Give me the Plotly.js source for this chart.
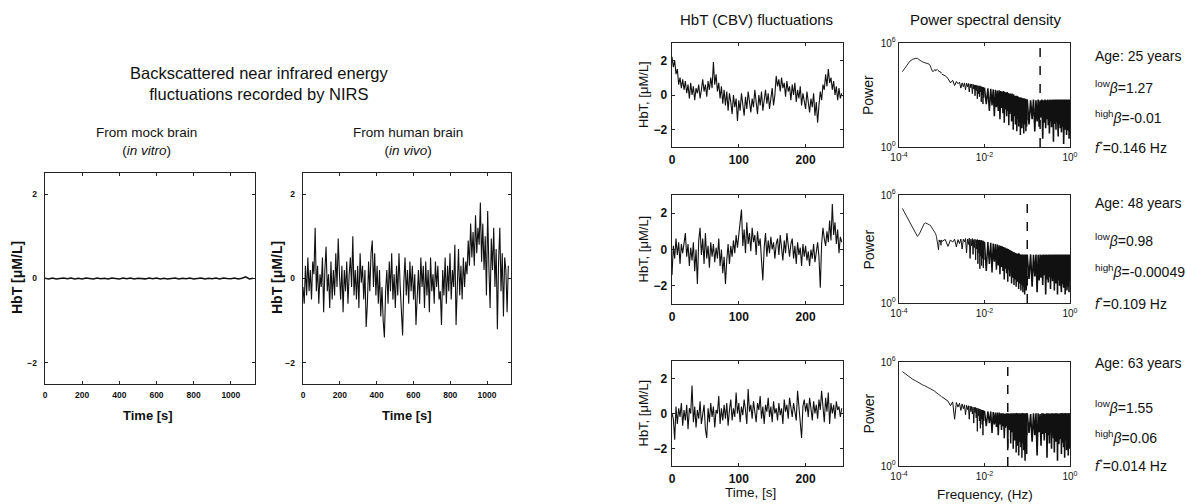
<!DOCTYPE html>
<html>
<head>
<meta charset="utf-8">
<script src="https://cdn.plot.ly/plotly-3.0.1.min.js"></script>
<style>
html,body{margin:0;padding:0;background:#ffffff;}
#chart{width:1186px;height:504px;}
</style>
</head>
<body>
<div id="chart"></div>
<script>
// ---------------- DATA ----------------
// In vitro (mock brain) HbT trace, sampled every 20 s
const mockStep = 20;
const mockHbT = [0.005,-0.01,0.01,-0.01,0.0,0.01,-0.005,0.01,-0.01,0.005,
  -0.01,0.01,0.0,-0.01,0.01,-0.005,0.005,-0.01,0.01,0.0,
  -0.01,0.01,-0.005,0.01,-0.01,0.005,0.0,-0.01,0.01,-0.005,
  0.01,-0.01,0.005,-0.01,0.0,0.01,-0.01,0.005,-0.005,0.01,
  -0.01,0.0,0.01,-0.01,0.005,-0.005,0.01,-0.01,0.01,0.0,
  -0.005,0.01,-0.01,0.005,0.04,-0.01,0.005];

// In vivo (human brain) HbT trace, sampled every 6.6 s
const humanStep = 6.6;
const humanHbT = [-0.2,-0.6,0.3,-0.4,0.5,-0.3,0.2,-0.5,0.4,0.1,
  1.2,-0.3,0.3,-0.6,0.1,-0.2,0.5,-0.8,0.2,0.75,
  -0.3,0.1,-0.7,0.4,-0.5,0.2,-0.4,0.6,-0.2,0.95,
  0.1,-0.5,0.3,-0.8,0.2,-0.3,0.4,-0.6,0.1,0.5,
  -0.2,1.0,-0.4,0.2,-0.5,0.3,-0.7,0.6,-0.1,0.3,
  -0.5,0.2,-1.15,-0.6,0.4,-0.3,0.6,0.9,-0.2,0.6,
  -0.4,0.3,-0.6,0.2,-0.9,-0.2,-1.0,-1.4,-0.3,0.2,
  -0.6,0.4,-0.3,0.6,-0.5,0.1,-0.7,0.3,-0.4,0.6,
  -0.2,-0.8,-1.35,-0.1,0.5,-0.4,0.2,-0.6,0.4,-0.3,
  0.3,-0.5,0.1,-1.1,-0.3,0.2,-0.6,0.5,-0.2,0.3,
  -0.7,0.4,-0.4,0.2,-0.8,0.5,-0.3,0.1,-0.6,0.4,
  -0.2,0.3,-0.5,-0.3,-1.1,0.2,-0.4,0.5,-0.6,0.3,
  -0.3,0.6,-0.5,0.2,-0.2,0.8,-1.1,0.1,0.7,-0.4,
  0.3,-0.5,0.5,-0.2,0.4,0.1,0.9,0.3,1.3,0.5,
  1.1,0.3,1.5,0.6,1.2,0.8,1.8,0.4,1.3,0.2,
  1.0,-0.4,1.6,0.3,-0.7,0.95,0.2,1.2,-0.2,0.7,
  -1.2,0.4,1.2,-0.3,0.6,-0.9,0.5,0.2,-0.8,0.3];

// HbT (CBV) fluctuations per subject, sampled every 2 s
const cbvStep = 2;
const hbtAge25 = [2.2,1.6,2.0,1.2,1.5,0.6,1.0,0.4,0.9,0.3,
  0.8,0.1,0.6,-0.2,0.7,0.0,0.5,-0.3,0.4,0.1,
  0.6,-0.2,0.3,0.9,0.2,0.6,-0.1,0.8,0.3,1.0,
  0.4,1.9,0.6,1.2,0.2,0.7,-0.2,0.5,-0.5,0.3,
  -0.6,0.2,-0.9,0.1,-0.4,-1.1,0.0,-0.7,-0.2,-1.5,
  -0.3,-0.9,0.1,-0.6,-1.2,-0.1,-0.8,0.2,-0.5,-1.0,
  -0.2,-0.7,0.3,-0.4,-1.1,0.0,-0.6,0.2,-0.9,-0.3,
  0.3,-0.5,0.1,-0.8,-0.2,0.4,-0.6,0.0,1.1,0.5,
  0.9,0.2,1.0,0.4,0.7,-0.1,0.8,0.2,0.5,-0.3,
  0.6,0.0,0.7,-0.4,0.3,-0.2,0.5,-0.6,0.1,-0.3,
  -0.8,0.2,-0.5,-1.0,-0.2,-0.7,0.1,-1.2,-0.4,-1.6,
  -0.6,0.2,-0.3,0.6,0.3,1.2,0.5,1.5,0.7,1.0,
  0.3,0.8,0.0,0.5,-0.3,0.4,-0.2,0.1];
const hbtAge48 = [-1.4,0.2,-0.5,0.6,-0.3,0.4,-0.8,0.3,-0.2,0.5,
  0.9,-0.4,0.3,-0.9,0.1,-0.6,0.4,-1.2,0.0,-1.9,
  0.5,1.2,-0.3,0.6,-0.8,0.9,-0.5,0.2,-1.0,0.4,
  -0.4,0.3,-0.7,0.1,-0.5,0.6,-0.9,0.0,-1.3,-0.4,
  -1.9,-0.6,0.3,-0.8,0.2,-0.4,0.5,-0.2,0.8,0.1,
  0.7,1.3,2.2,0.2,1.1,-0.2,1.5,0.3,0.9,-0.1,
  1.2,0.4,0.8,-0.3,1.0,0.2,0.6,-0.6,-1.7,0.1,
  0.9,-0.4,0.5,-0.2,0.7,0.0,0.4,-0.5,0.3,0.6,
  -0.3,0.8,0.1,-0.6,0.5,-0.2,0.9,0.0,-0.4,0.3,
  0.6,-0.5,0.2,-0.8,0.4,-0.3,0.1,-0.9,0.3,-0.4,
  0.2,-0.6,-0.1,-0.9,0.0,-0.5,0.3,-0.7,-0.2,0.4,
  -0.4,-2.1,0.3,1.2,0.6,0.2,1.0,0.4,1.6,0.5,
  2.5,0.8,1.5,0.3,1.1,-0.2,0.7,0.4];
const hbtAge63 = [0.0,-0.3,-1.5,0.4,-0.6,0.3,-0.2,0.6,-0.7,0.2,
  -0.4,0.5,-0.9,0.3,0.0,1.6,-0.5,0.4,-0.8,0.2,
  -0.3,0.7,-0.6,0.1,0.5,-0.9,-1.4,0.3,-0.5,0.6,
  -0.2,0.4,-0.8,0.2,0.0,1.0,-0.6,0.3,-0.4,0.5,
  -0.3,0.6,-0.7,0.2,0.8,-0.4,0.3,-0.2,1.2,0.0,
  0.6,-0.5,0.4,-0.1,0.8,0.2,-0.6,1.4,0.1,0.5,
  -0.3,0.7,0.0,-0.5,0.6,0.2,1.0,-0.3,0.4,-0.6,
  0.5,0.1,0.9,-0.2,0.4,-0.5,0.7,0.0,0.3,-0.4,
  0.6,-0.1,0.3,-0.6,0.8,0.1,0.5,-0.3,0.9,0.2,
  -0.2,0.6,0.0,-0.4,1.3,0.2,-0.3,-1.4,0.4,0.8,
  0.1,0.6,-0.2,0.9,0.3,-0.4,0.7,0.0,0.5,-0.3,
  0.8,0.2,1.3,0.4,-0.5,0.9,0.1,1.2,-0.6,0.6,
  0.0,0.5,-0.3,0.7,0.2,0.4,-0.2,0.3];

// Power spectral density, one array per frequency decade; within each decade the
// spectrum is sampled on a regular frequency grid (start Hz, step Hz below).
const psdDecadeStartHz = [1.2e-4, 1e-3, 1e-2, 1e-1];
const psdDecadeStepHz = [3e-5, 2e-4, 1e-3, 1e-2];

const psd25Dec1 = [2.2e4,5.2e4,9e4,1.15e5,1.3e5,1.3e5,1e5,9e4,8e4,7.6e4,
  7.3e4,7e4,6.8e4,6e4,4.8e4,3e4,2.4e4,2.2e4,2.6e4,3e4,
  2.5e4,2.8e4,3e4,2.7e4,2.6e4,2.2e4,2.4e4,2e4,1.8e4,2e4];
const psd25Dec2 = [1.6e4,1.3e4,9e3,5e3,7e3,3.5e3,6e3,4.5e3,5.5e3,2.5e3,
  5e3,3e3,5e3,2e3,4.8e3,3e3,4.6e3,1.5e3,4.4e3,2.6e3,
  4.2e3,1.2e3,4.2e3,2.2e3,3.8e3,9e2,3.8e3,1.8e3,3.6e3,6e2,
  3.5e3,1.2e3,3.3e3,8e2,3.4e3,1.5e3,3.1e3,4e2,3e3,1e3,
  2.9e3,3e2,2.8e3,7e2,2.7e3];
const psd25Dec3 = [2.6e3,3e2,2.4e3,1.2e2,2.3e3,2.5e2,2.1e3,60,2e3,2e2,
  1.8e3,1.2e2,1.9e3,40,1.7e3,1.8e2,1.6e3,90,1.7e3,25,
  1.5e3,1.5e2,1.4e3,60,1.5e3,1.2e2,1.3e3,18,1.2e3,80,
  1.2e3,1.1e2,1.1e3,30,1.2e3,70,1e3,10,1.1e3,60,
  9e2,90,9e2,20,8.5e2,50,8e2,8,8.5e2,70,
  7.5e2,40,8e2,15,7e2,60,7.5e2,30,7e2,5,
  7e2,45,6.5e2,70,7e2,12,6.5e2,50,6e2,25,
  6.5e2,60,6e2,6,6.5e2,40,6e2,20,6e2,50,
  5.5e2,30,6e2,8,5.5e2,45,5.5e2,15,5.5e2,35];
const psd25Dec4 = [5.5e2,20,5e2,40,5.5e2,8,5e2,30,5.5e2,15,
  5e2,50,5.5e2,3,5e2,25,5.5e2,12,5e2,40,
  5.5e2,18,5e2,6,5.5e2,30,5e2,14,5.5e2,45,
  5e2,2,5.5e2,22,5e2,35,5.5e2,10,5e2,28,
  5.5e2,16,5e2,4,5.5e2,40,5e2,20,5.5e2,12,
  5e2,30,5.5e2,7,5e2,25,5.5e2,45,5e2,15,
  5.5e2,1.5,5e2,35,5.5e2,18,5e2,10,5.5e2,28,
  5e2,40,5.5e2,5,5e2,22,5.5e2,14,5e2,32,
  5.5e2,9,5e2,25,5.5e2,3,5e2,20,5.5e2,12,
  5e2];

const psd48Dec1 = [1.8e5,6.5e4,2.8e4,1.5e4,7.5e3,5e3,7e3,1.2e4,2e4,2.6e4,
  2.8e4,2.7e4,2.4e4,2.2e4,2.1e4,1.7e4,1.4e4,1.2e4,1e4,9e3,
  7e3,5e3,3e3,1.5e3,9e2,3.2e3,2.5e3,3e3,1.6e3,3.2e3];
const psd48Dec2 = [2.6e3,3.4e3,1.4e3,3.2e3,2.4e3,3.5e3,1.3e3,3.3e3,2e3,3.6e3,
  1e3,3.5e3,2.5e3,3.8e3,6e2,3.6e3,1.8e3,4e3,3e2,3.5e3,
  1.5e3,3.8e3,5e2,3.3e3,1.2e3,3.5e3,2.5e2,3.2e3,1e3,3.4e3,
  1.5e2,3.1e3,6e2,3.2e3,80,3e3,4e2,3.1e3,1.2e2,2.8e3,
  3e2,2.9e3,90,2.6e3,2.5e2];
const psd48Dec3 = [2.5e3,60,2.4e3,1.5e2,2.2e3,50,2e3,2e2,1.9e3,70,
  1.8e3,1.2e2,1.6e3,40,1.5e3,1e2,1.4e3,60,1.3e3,20,
  1.2e3,80,1.1e3,45,1.05e3,15,1e3,70,9e2,30,
  8.5e2,60,8e2,12,7.5e2,50,7e2,25,6.5e2,10,
  6.5e2,45,6e2,20,6e2,8,5.5e2,40,5.5e2,15,
  5.5e2,35,5e2,6,5.2e2,30,5e2,12,5e2,25,
  5e2,5,4.8e2,30,5e2,10,4.8e2,22,5e2,4,
  4.8e2,25,5e2,8,4.8e2,20,5e2,3,4.8e2,22,
  5e2,10,4.8e2,18,5e2,5,4.8e2,25,5e2,9];
const psd48Dec4 = [4.8e2,22,5e2,8,4.8e2,30,5e2,4,4.8e2,18,
  5e2,25,4.8e2,10,5e2,35,4.8e2,3,5e2,20,
  4.8e2,14,5e2,28,4.8e2,6,5e2,24,4.8e2,16,
  5e2,32,4.8e2,5,5e2,20,4.8e2,12,5e2,26,
  4.8e2,3,5e2,18,4.8e2,30,5e2,9,4.8e2,22,
  5e2,15,4.8e2,4,5e2,28,4.8e2,12,5e2,20,
  4.8e2,7,5e2,26,4.8e2,16,5e2,3,4.8e2,24,
  5e2,10,4.8e2,30,5e2,5,4.8e2,18,5e2,22,
  4.8e2,8,5e2,25,4.8e2,4,5e2,16,4.8e2,20,
  5e2];

const psd63Dec1 = [2.8e5,1.8e5,1.3e5,1e5,8.5e4,7e4,5.8e4,5.2e4,4.7e4,4.4e4,
  4e4,3.8e4,3.6e4,3.3e4,3.1e4,2.8e4,2.6e4,2.4e4,2.2e4,2e4,
  1.85e4,1.7e4,1.6e4,1.55e4,1.5e4,1.35e4,1.3e4,1.2e4,1.1e4,1e4];
const psd63Dec2 = [1e4,7e3,5.5e3,3e3,5e3,5e2,4.6e3,2.5e3,4.2e3,1.6e3,
  3.8e3,2e3,3.4e3,9e2,3.2e3,1.8e3,3e3,5e2,2.9e3,1.4e3,
  2.7e3,1e3,2.5e3,3e2,2.4e3,1.2e3,2.4e3,6e2,2.2e3,1e2,
  2.1e3,8e2,2e3,4e2,1.9e3,1.5e2,1.8e3,5e2,1.7e3,2.5e2,
  1.7e3,60,1.6e3,4e2,1.5e3];
const psd63Dec3 = [1.5e3,2e2,1.4e3,3e2,1.4e3,80,1.3e3,2.5e2,1.2e3,1.8e2,
  1.2e3,60,1.2e3,2.5e2,1.1e3,1.2e2,1.1e3,2e2,1.1e3,40,
  1e3,1.6e2,1.1e3,2e2,1.1e3,8,1.1e3,1.5e2,1e3,1.2e2,
  1.1e3,20,1.1e3,90,1.1e3,1.2e2,1e3,10,1.1e3,80,
  1.1e3,30,1.1e3,1e2,1.1e3,6,1.1e3,70,1e3,15,
  1.1e3,90,1.1e3,4,1.1e3,80,1.1e3,25,1e3,1e2,
  1.1e3,12,1.1e3,70,1.1e3,3,1.1e3,90,1e3,20,
  1.1e3,60,1.1e3,8,1.1e3,80,1.1e3,30,1e3,2,
  1.1e3,70,1.1e3,15,1.1e3,90,1.1e3,5,1e3,60];
const psd63Dec4 = [1.1e3,80,1e3,25,1.1e3,60,1.1e3,4,1.1e3,90,
  1e3,15,1.1e3,70,1.1e3,30,1e3,80,1.1e3,3,
  1.1e3,60,1.1e3,20,1e3,90,1.1e3,10,1.1e3,70,
  1.1e3,40,1e3,6,1.1e3,80,1.1e3,25,1e3,60,
  1.1e3,2,1.1e3,90,1e3,18,1.1e3,70,1.1e3,35,
  1e3,80,1.1e3,5,1.1e3,60,1e3,22,1.1e3,90,
  1.1e3,12,1e3,70,1.1e3,3,1.1e3,80,1e3,30,
  1.1e3,60,1.1e3,8,1e3,90,1.1e3,20,1.1e3,70,
  1e3,4,1.1e3,80,1.1e3,25,1e3,60,1.1e3,10,
  1.1e3];

// Crossover frequency markers (dashed lines, position)
const crossoverLineHz = [0.2, 0.1, 0.035];

// Text
const ageLabels = ['Age: 25 years', 'Age: 48 years', 'Age: 63 years'];
const lowBeta = ['1.27', '0.98', '1.55'];
const highBeta = ['-0.01', '-0.00049', '0.06'];
const fStar = ['0.146', '0.109', '0.014'];

// Tick labels
const leftTimeTicks = [0, 200, 400, 600, 800, 1000];
const leftHbtTicks = [-2, 0, 2];
const rightTimeTicks = [0, 100, 200];
const rightHbtTicks = [-2, 0, 2];
const freqTickVals = [1e-4, 1e-2, 1];
const freqTickText = ['10<sup>-4</sup>', '10<sup>-2</sup>', '10<sup>0</sup>'];
const powerTickVals = [1, 1e6];
const powerTickText = ['10<sup>0</sup>', '10<sup>6</sup>'];

// ---------------- LAYOUT ----------------
const W = 1186, H = 504;
const FONT = 'Liberation Sans, Arial, sans-serif';
const INK = '#111111';
const dx = (a, b) => [a / W, b / W];
const dy = (top, bottom) => [1 - bottom / H, 1 - top / H];
const fx = p => p / W;
const fy = p => 1 - p / H;

function frame(extra) {
  return Object.assign({
    showline: true, linecolor: '#222', linewidth: 1.3, mirror: 'ticks',
    ticks: 'inside', ticklen: 3, tickcolor: '#222', tickwidth: 1,
    showgrid: false, zeroline: false, fixedrange: true,
    tickfont: {family: FONT, size: 12, color: INK}
  }, extra);
}

const leftTick = {family: FONT, size: 8.5, color: INK, weight: 'bold'};

const rowsTime = [[43, 147], [195, 304], [361, 466]];
const rowsPsd = [[43, 147], [195, 303], [362, 466]];
const hbtSeries = [hbtAge25, hbtAge48, hbtAge63];
const psdSeries = [
  [psd25Dec1, psd25Dec2, psd25Dec3, psd25Dec4],
  [psd48Dec1, psd48Dec2, psd48Dec3, psd48Dec4],
  [psd63Dec1, psd63Dec2, psd63Dec3, psd63Dec4]
];
const psdDecadeWidth = [0.9, 1.0, 1.5, 1.6];

const traces = [
  {type: 'scatter', mode: 'lines', x0: 0, dx: mockStep, y: mockHbT, xaxis: 'x', yaxis: 'y',
   line: {color: INK, width: 1.6}},
  {type: 'scatter', mode: 'lines', x0: 0, dx: humanStep, y: humanHbT, xaxis: 'x2', yaxis: 'y2',
   line: {color: INK, width: 1.1}}
];

const layout = {
  width: W, height: H, autosize: false,
  margin: {l: 0, r: 0, t: 0, b: 0},
  paper_bgcolor: '#ffffff', plot_bgcolor: '#ffffff',
  showlegend: false, hovermode: false,
  font: {family: FONT, color: INK},
  xaxis: frame({domain: dx(45, 255), anchor: 'y', range: [0, 1130], tickvals: leftTimeTicks, tickfont: leftTick, ticklabelstandoff: 2}),
  yaxis: frame({domain: dy(173, 384), anchor: 'x', range: [-2.5, 2.5], tickvals: leftHbtTicks, tickfont: leftTick, ticklabelstandoff: 5}),
  xaxis2: frame({domain: dx(303, 511), anchor: 'y2', range: [0, 1130], tickvals: leftTimeTicks, tickfont: leftTick, ticklabelstandoff: 2}),
  yaxis2: frame({domain: dy(173, 384), anchor: 'x2', range: [-2.5, 2.5], tickvals: leftHbtTicks, tickfont: leftTick, ticklabelstandoff: 5}),
  shapes: [],
  annotations: []
};

for (let k = 0; k < 3; k++) {
  const tn = 3 + k, pn = 6 + k;
  traces.push({type: 'scatter', mode: 'lines', x0: 0, dx: cbvStep, y: hbtSeries[k],
    xaxis: 'x' + tn, yaxis: 'y' + tn, line: {color: INK, width: 1.1}});
  for (let d = 0; d < 4; d++) {
    traces.push({type: 'scatter', mode: 'lines', x0: psdDecadeStartHz[d], dx: psdDecadeStepHz[d], y: psdSeries[k][d],
      xaxis: 'x' + pn, yaxis: 'y' + pn, line: {color: INK, width: psdDecadeWidth[d]}});
  }
  layout['xaxis' + tn] = frame({domain: dx(672, 843), anchor: 'y' + tn, range: [0, 256], tickvals: rightTimeTicks,
    tickfont: {family: FONT, size: 12, color: INK, weight: 'bold'}, ticklabelstandoff: 1});
  layout['yaxis' + tn] = frame({domain: dy(rowsTime[k][0], rowsTime[k][1]), anchor: 'x' + tn, range: [-3, 3], tickvals: rightHbtTicks,
    tickfont: {family: FONT, size: 12, color: INK, weight: 'bold'}, ticklabelstandoff: 1});
  layout['xaxis' + pn] = frame({domain: dx(899, 1070), anchor: 'y' + pn, type: 'log', range: [-4, 0],
    tickvals: freqTickVals, ticktext: freqTickText, tickfont: {family: FONT, size: 10, color: INK}, ticklabelstandoff: 1});
  layout['yaxis' + pn] = frame({domain: dy(rowsPsd[k][0], rowsPsd[k][1]), anchor: 'x' + pn, type: 'log', range: [0, 6],
    tickvals: powerTickVals, ticktext: powerTickText, tickfont: {family: FONT, size: 10, color: INK}, ticklabelstandoff: 0});
  layout.shapes.push({type: 'line', xref: 'x' + pn, yref: 'y' + pn + ' domain',
    x0: crossoverLineHz[k], x1: crossoverLineHz[k], y0: 0, y1: 1,
    line: {color: INK, width: 1.5, dash: 'dash'}});
}

function note(text, x, y, size, extra) {
  return Object.assign({text: text, x: fx(x), y: fy(y), xref: 'paper', yref: 'paper', showarrow: false,
    xanchor: 'center', yanchor: 'middle', font: {family: FONT, size: size, color: INK}}, extra || {});
}

const A = layout.annotations;
A.push(note('Backscattered near infrared energy<br>fluctuations recorded by NIRS', 259, 84, 16.5));
A.push(note('From mock brain<br>(<i>in vitro</i>)', 146, 141, 13.5));
A.push(note('From human brain<br>(<i>in vivo</i>)', 408, 141, 13.5));
A.push(note('HbT (CBV) fluctuations', 756, 20, 15));
A.push(note('Power spectral density', 985, 20, 15));
// axis titles
A.push(note('<b>HbT [μM/L]</b>', 17, 278, 14, {textangle: -90}));
A.push(note('<b>HbT [μM/L]</b>', 277, 278, 14, {textangle: -90}));
A.push(note('<b>Time [s]</b>', 148, 415, 13));
A.push(note('<b>Time [s]</b>', 407, 415, 13));
const timeMid = [95, 249.5, 413.5];
for (let k = 0; k < 3; k++) {
  A.push(note('HbT, [μM/L]', 643, timeMid[k], 13, {textangle: -90}));
  A.push(note('Power', 868, timeMid[k], 14, {textangle: -90}));
}
A.push(note('Time, [s]', 750, 492, 13.5));
A.push(note('Frequency, (Hz)', 985, 494, 13.5));
// per-subject statistics
const statY = [[56, 87, 117, 147], [203, 240, 271, 303], [363, 407, 437, 465]];
for (let k = 0; k < 3; k++) {
  const lines = [ageLabels[k],
    '<sup>low</sup><i>β</i>=' + lowBeta[k],
    '<sup>high</sup><i>β</i>=' + highBeta[k],
    '<i>f</i><sup>*</sup>=' + fStar[k] + ' Hz'];
  for (let j = 0; j < 4; j++) {
    A.push(note(lines[j], 1093, statY[k][j], 14, {xanchor: 'left'}));
  }
}

Plotly.newPlot('chart', traces, layout, {staticPlot: true, displayModeBar: false});
</script>
</body>
</html>
